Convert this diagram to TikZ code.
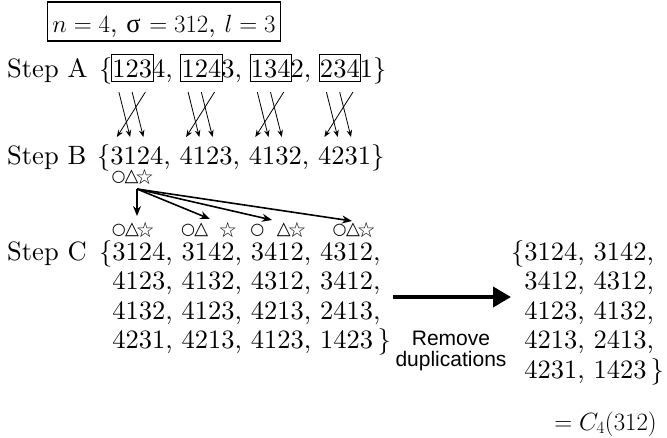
\documentclass[tikz,border=0pt]{standalone}
\usepackage{fontspec}
\usetikzlibrary{arrows.meta}
\setmainfont{lmroman10-regular.otf}
\newfontfamily\grfont{Liberation Serif}
\newfontfamily\shapefont{DejaVu Sans}
\newfontfamily\labfont{Liberation Sans}
\setlength{\fboxsep}{0.5pt}
\setlength{\fboxrule}{0.7pt}
\newcommand{\subbox}[1]{\kern-1.2pt\fbox{\rule[-3.8pt]{0pt}{25.5pt}#1}\kern-1.2pt}

\begin{document}
\begin{tikzpicture}[x=1pt,y=-1pt,
  txt/.style={font=\fontsize{26.5}{30}\selectfont, inner sep=0pt, anchor=base west},
  symO/.style={font=\shapefont\fontsize{16}{16}\selectfont, inner sep=0pt},
  symT/.style={font=\shapefont\fontsize{18}{18}\selectfont, inner sep=0pt},
  symS/.style={font=\shapefont\fontsize{21}{21}\selectfont, inner sep=0pt},
  perm/.style={line width=0.8pt, -{Stealth[length=7pt,width=5.5pt]}},
  ins/.style={line width=1.6pt, -{Stealth[length=10pt,width=8pt]}}]
\useasboundingbox (0,0) rectangle (667,437);

%header
\node [draw, line width=1.1pt, font=\fontsize{26.5}{30}\selectfont, inner xsep=5pt, inner ysep=3pt,
  text height=27pt, text depth=6pt, anchor=base] (title) at (164,32) {$n = 4$, {\grfont σ} $= 312$, $l = 3$};

%the three steps
\node [txt] (stepA) at (7,77) {Step A};
\node [txt] (setA) at (99,77) {\{\subbox{123}4, \subbox{124}3, \subbox{134}2, \subbox{234}1\}};
\node [txt] (stepB) at (7,164) {Step B};
\node [txt] (setB) at (97,164) {\{3124, 4123, 4132, 4231\}};
\node [txt] (stepC) at (7,260) {Step C};
\node [txt] (rowC1) at (99,260) {\{3124, 3142, 3412, 4312,};
\node [txt] (rowC2) at (112.25,289.5) {4123, 4132, 4312, 3412,};
\node [txt] (rowC3) at (112.25,319) {4132, 4123, 4213, 2413,};
\node [txt] (rowC4) at (112.25,348.5) {4231, 4213, 4123, 1423\kern4.5pt\}};

%result set
\node [txt] (rowD1) at (511,260) {\{3124, 3142,};
\node [txt] (rowD2) at (524.25,289.5) {3412, 4312,};
\node [txt] (rowD3) at (524.25,319) {4123, 4132,};
\node [txt] (rowD4) at (524.25,348.5) {4213, 2413,};
\node [txt] (rowD5) at (524.25,378) {4231, 1423\kern4pt\}};
\node [txt, anchor=base east] (cfour) at (657,430) {$= C_4(312)$};

%digits of the boxed parts (top) and of step B (bottom)
\coordinate (A11) at (118.9,92); % 1 of 123
\coordinate (A12) at (132.1,92); % 2 of 123
\coordinate (A13) at (145.4,92); % 3 of 123
\coordinate (B11) at (116.9,137);
\coordinate (B12) at (130.1,137);
\coordinate (B13) at (143.4,137);
\coordinate (A21) at (188.1,92); % 124
\coordinate (A22) at (201.3,92);
\coordinate (A23) at (214.6,92);
\coordinate (B21) at (186.1,137);
\coordinate (B22) at (199.3,137);
\coordinate (B23) at (212.6,137);
\coordinate (A31) at (257.3,92); % 134
\coordinate (A32) at (270.5,92);
\coordinate (A33) at (283.8,92);
\coordinate (B31) at (255.3,137);
\coordinate (B32) at (268.5,137);
\coordinate (B33) at (281.8,137);
\coordinate (A41) at (326.4,92); % 234
\coordinate (A42) at (339.7,92);
\coordinate (A43) at (353.0,92);
\coordinate (B41) at (324.4,137);
\coordinate (B42) at (337.7,137);
\coordinate (B43) at (351.0,137);

%put the boxed digits in the order 312
\draw [perm] (A11) -- (B12);
\draw [perm] (A12) -- (B13);
\draw [perm] (A13) -- (B11);
\draw [perm] (A21) -- (B22);
\draw [perm] (A22) -- (B23);
\draw [perm] (A23) -- (B21);
\draw [perm] (A31) -- (B32);
\draw [perm] (A32) -- (B33);
\draw [perm] (A33) -- (B31);
\draw [perm] (A41) -- (B42);
\draw [perm] (A42) -- (B43);
\draw [perm] (A43) -- (B41);

%marks under 3124 of step B
\node [symO] (bO) at (118.5,177) {○};
\node [symT] (bT) at (131.5,177) {△};
\node [symS] (bS) at (144.5,177) {☆};

%marks over the first row of step C
\node [symO] (c1O) at (118.9,230) {○};
\node [symT] (c1T) at (132.1,230) {△};
\node [symS] (c1S) at (145.4,230) {☆};
\node [symO] (c2O) at (188.1,230) {○};
\node [symT] (c2T) at (201.3,230) {△};
\node [symS] (c2S) at (227.8,230) {☆};
\node [symO] (c3O) at (257.3,230) {○};
\node [symT] (c3T) at (283.8,230) {△};
\node [symS] (c3S) at (297.0,230) {☆};
\node [symO] (c4O) at (339.7,230) {○};
\node [symT] (c4T) at (353.0,230) {△};
\node [symS] (c4S) at (366.2,230) {☆};

%inserting 4 at every place
\coordinate (src) at (137,189);
\coordinate (D1) at (137,216);
\coordinate (D2) at (210,219);
\coordinate (D3) at (272,220);
\coordinate (D4) at (352,221);
\draw [ins] (src) -- (D1);
\draw [ins] (src) -- (D2);
\draw [ins] (src) -- (D3);
\draw [ins] (src) -- (D4);

%remove duplications
\coordinate (E) at (393,297);
\coordinate (F) at (511,297);
\draw [line width=4pt, -{Triangle[length=18pt,width=20pt]}] (E) -- (F);
\node [font=\labfont\fontsize{21}{21}\selectfont, align=center, inner sep=0pt] (remove) at (451,351) {Remove\\duplications};
\end{tikzpicture}
\end{document}
